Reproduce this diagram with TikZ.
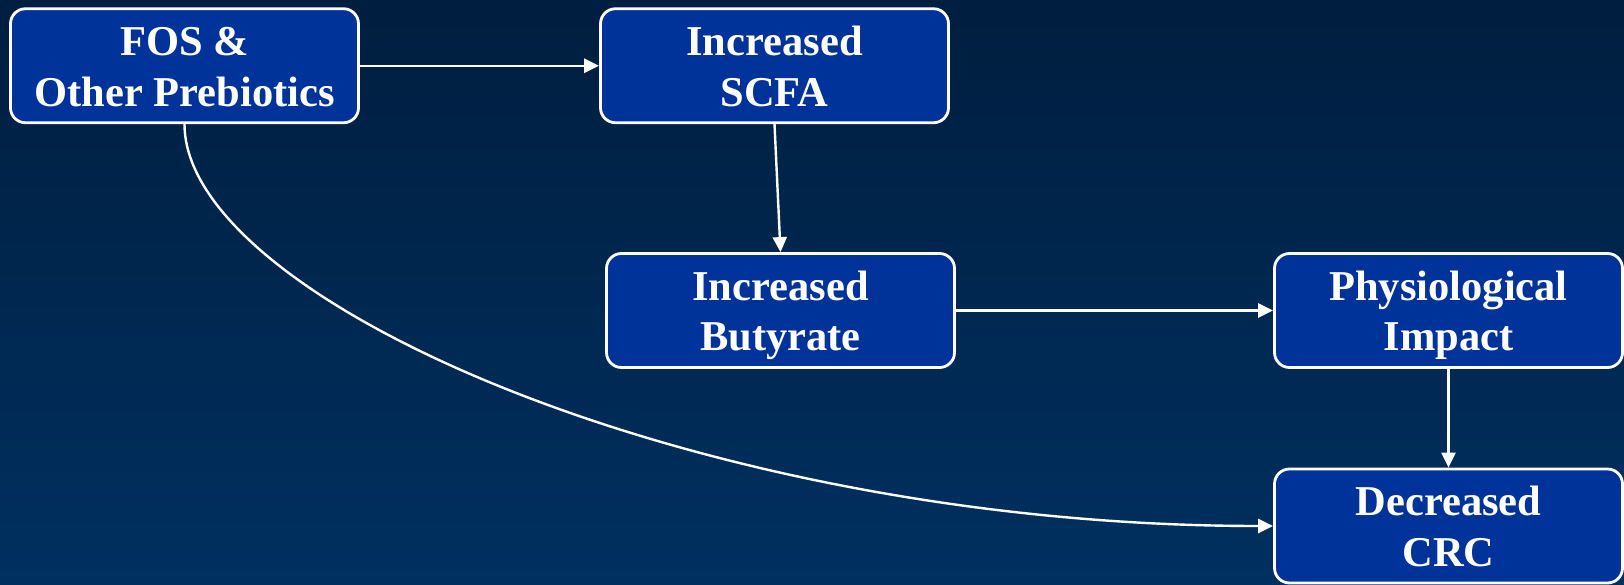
\documentclass[tikz,border=0pt]{standalone}
\usepackage{fontspec}
\setmainfont{Liberation Serif}
\usetikzlibrary{arrows.meta}
\definecolor{bgtop}{RGB}{0,30,63}
\definecolor{bgbot}{RGB}{0,48,96}
\definecolor{boxfill}{RGB}{0,51,153}
\tikzset{
  flowbox/.style={draw=white, line width=2.8pt, fill=boxfill, rounded corners=15pt,
    minimum width=348pt, minimum height=114pt, inner sep=0pt, align=center,
    text=white, font=\fontsize{42.5}{50.7}\selectfont\bfseries},
  flowarrow/.style={draw=white, line width=2.4pt, -{Triangle[length=15pt,width=14pt]}}
}
\newcommand{\toprule}{\rule{0pt}{40pt}}
\newcommand{\botrule}{\rule[-10pt]{0pt}{10pt}}
\begin{document}
\begin{tikzpicture}[x=1pt,y=-1pt]
\shade[top color=bgtop, bottom color=bgbot] (0,0) rectangle (1624,585);
\useasboundingbox (0,0) rectangle (1624,585);
\node[flowbox] (fos)  at (184.5,65.75)  {\toprule FOS \&\\ Other Prebiotics\botrule};
\node[flowbox] (scfa) at (774.5,65.75)  {\toprule Increased\\ SCFA\botrule};
\node[flowbox] (but)  at (780.5,310.5)  {\toprule Increased\\ Butyrate\botrule};
\node[flowbox] (phys) at (1448.5,310.5) {\toprule Physiological\\ Impact\botrule};
\node[flowbox] (crc)  at (1448.5,526)   {\toprule Decreased\\ CRC\botrule};
\draw[flowarrow] (fos.east) -- (scfa.west);
\draw[flowarrow] (scfa.south) -- (but.north);
\draw[flowarrow] (but.east) -- (phys.west);
\draw[flowarrow] (phys.south) -- (crc.north);
\draw[flowarrow] (fos.south) .. controls +(0,176) and +(-575,0) .. (crc.west);
\end{tikzpicture}
\end{document}
